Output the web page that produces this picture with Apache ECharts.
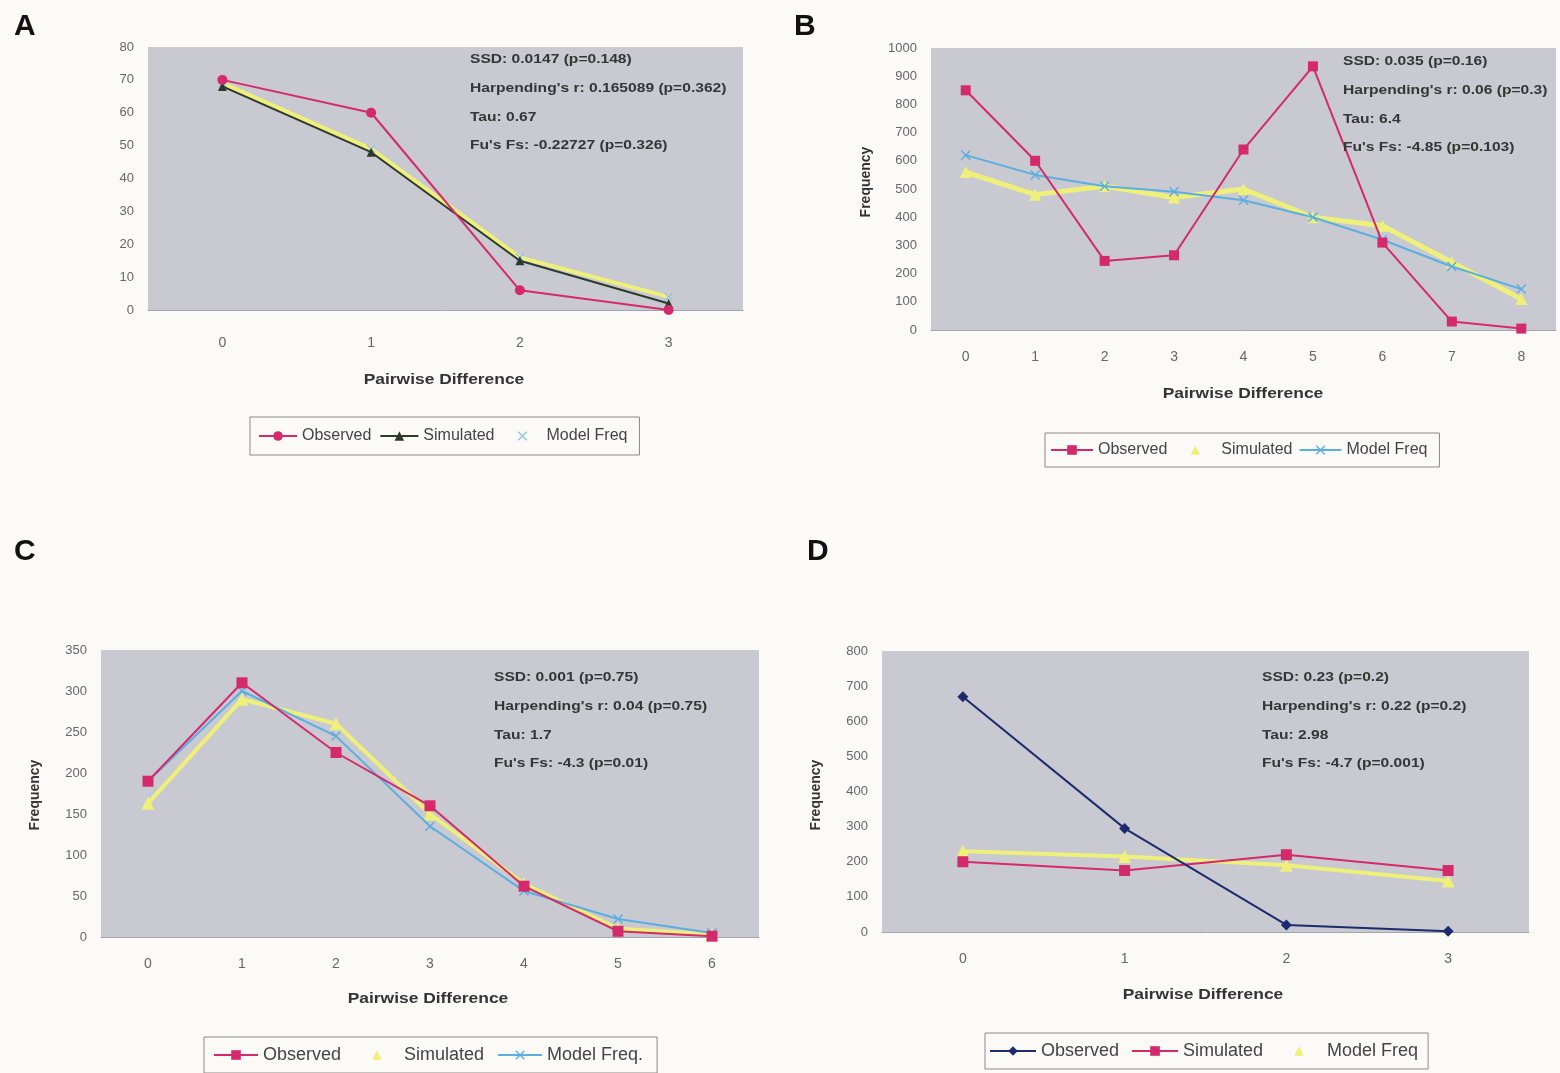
<!DOCTYPE html>
<html><head><meta charset="utf-8">
<script src="https://cdn.jsdelivr.net/npm/echarts@6/dist/echarts.min.js"></script>
<style>html,body{margin:0;padding:0;background:#fcfaf7;}#c{width:1560px;height:1073px;}</style>
</head><body><div id="c"></div>
<script>
// ---- data ----
const catsA = ['0','1','2','3'];
const obsA = [70, 60, 6, 0];
const simA = [68, 48, 15, 2];
const modA = [69, 49, 16, 4];

const catsB = ['0','1','2','3','4','5','6','7','8'];
const obsB = [850, 600, 245, 265, 640, 935, 310, 30, 5];
const simB = [560, 480, 510, 470, 500, 400, 370, 240, 110];
const modB = [620, 550, 510, 490, 460, 400, 320, 225, 145];

const catsC = ['0','1','2','3','4','5','6'];
const obsC = [190, 310, 225, 160, 62, 7, 1];
const simC = [163, 290, 260, 150, 65, 10, 3];
const modC = [190, 300, 245, 135, 56, 22, 5];

const catsD = ['0','1','2','3'];
const obsD = [670, 295, 20, 2];
const simD = [200, 175, 220, 175];
const modD = [230, 215, 190, 145];

const statsA = ['SSD: 0.0147 (p=0.148)', "Harpending's r: 0.165089 (p=0.362)", 'Tau: 0.67', "Fu's Fs: -0.22727 (p=0.326)"];
const statsB = ['SSD: 0.035 (p=0.16)', "Harpending's r: 0.06 (p=0.3)", 'Tau: 6.4', "Fu's Fs: -4.85 (p=0.103)"];
const statsC = ['SSD: 0.001 (p=0.75)', "Harpending's r: 0.04 (p=0.75)", 'Tau: 1.7', "Fu's Fs: -4.3 (p=0.01)"];
const statsD = ['SSD: 0.23 (p=0.2)', "Harpending's r: 0.22 (p=0.2)", 'Tau: 2.98', "Fu's Fs: -4.7 (p=0.001)"];

// ---- styles ----
const PINK = '#d42a6c', YEL = '#eef07a', BLUE = '#5aaee0', LBLUE = '#8cc4e6', NAVY = '#1d2b6e', DARK = '#2c3a2c';
const XSYM = 'path://M0,1L1,0L5,4L9,0L10,1L6,5L10,9L9,10L5,6L1,10L0,9L4,5Z';
const FONT = '"Liberation Sans", Arial, sans-serif';
const BG = '#c9c9d2';
const PAGE = '#fcfaf7';

const grids = [
  {left:148, top:47, width:595, height:263},
  {left:931, top:48, width:625, height:282},
  {left:101, top:650, width:658, height:287},
  {left:882, top:651, width:647, height:281}
];
const cats = [catsA, catsB, catsC, catsD];
const yMax = [80, 1000, 350, 800];
const yInt = [10, 100, 50, 100];

const xAxes = cats.map((c,i)=>({type:'category', gridIndex:i, data:c, boundaryGap:true,
  axisLine:{show:true, lineStyle:{color:'#a4a4ac', width:1}}, axisTick:{show:false},
  axisLabel:{color:'#666', fontSize:14, fontFamily:FONT, margin: i===0?26:20}}));
const yAxes = yMax.map((m,i)=>({type:'value', gridIndex:i, min:0, max:m, interval:yInt[i],
  axisLine:{show:false}, axisTick:{show:false}, splitLine:{show:false},
  axisLabel:{color:'#666', fontSize:13, fontFamily:FONT, margin: 14, formatter: v => String(v)}}));

function ser(name, gi, data, color, sym, size, lw, z, markColor){
  return {name, type:'line', xAxisIndex:gi, yAxisIndex:gi, data, symbol:sym, symbolSize:size,
    lineStyle:{color, width:lw}, itemStyle:{color: markColor || color}, z:z||2, animation:false};
}
const series = [
  ser('Model Freq', 0, modA, YEL, XSYM, 9, 4, 1, LBLUE),
  ser('Simulated', 0, simA, DARK, 'triangle', 9, 2, 2),
  ser('Observed', 0, obsA, PINK, 'circle', 10, 2, 3),

  ser('Simulated ', 1, simB, YEL, 'triangle', 12, 5, 1),
  ser('Model Freq ', 1, modB, BLUE, XSYM, 10, 2, 2),
  ser('Observed ', 1, obsB, PINK, 'rect', 10, 2, 3),

  ser('Simulated ', 2, simC, YEL, 'triangle', 13, 4, 1),
  ser('Model Freq.', 2, modC, BLUE, XSYM, 10, 2, 2),
  ser('Observed ', 2, obsC, PINK, 'rect', 11, 2, 3),

  ser('Model Freq  ', 3, modD, YEL, 'triangle', 13, 4, 1),
  ser('Simulated  ', 3, simD, PINK, 'rect', 11, 2, 2),
  ser('Observed  ', 3, obsD, NAVY, 'diamond', 11, 2, 3)
];

function li(name, showLine){
  return showLine ? {name} : {name, lineStyle:{opacity:0}};
}
function mkLegend(left, top, iw, gap, fs, pad, items){
  return {left, top, orient:'horizontal', data:items, itemWidth:iw, itemHeight:12, itemGap:gap,
    borderColor:'#8a8a8a', borderWidth:1, padding:pad, backgroundColor:PAGE,
    formatter: n => n.trim(),
    textStyle:{fontSize:fs, color:'#444', fontFamily:FONT}, selectedMode:false};
}
const legends = [
  mkLegend(250, 417, 38, 8, 16, [11,12,11,8], [li('Observed',true), li('Simulated',true), li('Model Freq',false)]),
  mkLegend(1045, 433, 42, 6, 16, [9,12,9,5], [li('Observed ',true), li('Simulated ',false), li('Model Freq ',true)]),
  mkLegend(204, 1037, 44, 13, 18, [9,14,9,9], [li('Observed ',true), li('Simulated ',false), li('Model Freq.',true)]),
  mkLegend(985, 1033, 46, 12, 18, [9,10,9,4], [li('Observed  ',true), li('Simulated  ',true), li('Model Freq  ',false)])
];

const graphics = [];
function txt(x, y, s, opt, sx){
  graphics.push({type:'text', x:x, y:y, scaleX: sx||1, silent:true, z:100,
    style:Object.assign({text:s, fill:'#222', font:'13px '+FONT, verticalAlign:'middle'}, opt||{})});
}
// panel letters
txt(14, 27, 'A', {font:'bold 30px '+FONT, fill:'#111'});
txt(794, 27, 'B', {font:'bold 30px '+FONT, fill:'#111'});
txt(14, 552, 'C', {font:'bold 30px '+FONT, fill:'#111'});
txt(807, 552, 'D', {font:'bold 30px '+FONT, fill:'#111'});
// stats
function stats(x, y0, arr){ arr.forEach((s,i)=>txt(x, y0 + i*28.7, s, {font:'bold 12px '+FONT, fill:'#353535'}, 1.3)); }
stats(470, 60, statsA);
stats(1343, 62, statsB);
stats(494, 678, statsC);
stats(1262, 678, statsD);
// axis titles
function centerText(cx, cy, s){
  graphics.push({type:'text', x:cx, y:cy, scaleX:1.16, silent:true, z:100,
    style:{text:s, fill:'#333', font:'bold 15px '+FONT, align:'center', verticalAlign:'middle'}});
}
centerText(444, 380, 'Pairwise Difference');
centerText(1243, 394, 'Pairwise Difference');
centerText(428, 999, 'Pairwise Difference');
centerText(1203, 995, 'Pairwise Difference');
function yt(cx, cy, s){
  graphics.push({type:'text', x:cx, y:cy, rotation:Math.PI/2, silent:true, z:100,
    style:{text:s, fill:'#333', font:'bold 14px '+FONT, align:'center', verticalAlign:'middle'}});
}
yt(866, 182, 'Frequency');
yt(35, 795, 'Frequency');
yt(816, 795, 'Frequency');

const chart = echarts.init(document.getElementById('c'), null, {renderer:'canvas'});
chart.setOption({
  backgroundColor:PAGE,
  animation:false,
  grid: grids.map(g=>Object.assign({show:true, backgroundColor:BG, borderWidth:0}, g)),
  xAxis: xAxes, yAxis: yAxes, series, legend: legends, graphic: graphics
});
</script></body></html>
